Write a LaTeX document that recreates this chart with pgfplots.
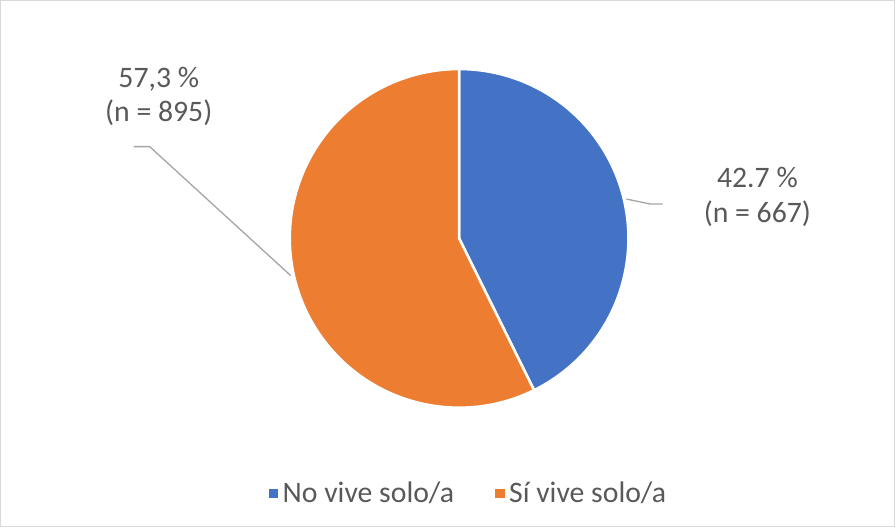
\documentclass[border=0pt]{standalone}
\usepackage{pgfplots}
\pgfplotsset{compat=1.18}
\usepackage{fontspec}
\setmainfont{Carlito}
\definecolor{pblue}{HTML}{4472C4}
\definecolor{porange}{HTML}{ED7D31}
\definecolor{ptext}{HTML}{595959}
\definecolor{pline}{HTML}{A5A5A5}
\definecolor{pframe}{HTML}{D9D9D9}
% counts per category
\def\nNo{667}
\def\nSi{895}
\begin{document}
\begin{tikzpicture}
\pgfmathsetmacro{\angNo}{360*(\nNo/(\nNo+\nSi))}
\begin{axis}[
  width=895bp, height=529bp, scale only axis,
  xmin=0, xmax=895, ymin=0, ymax=529,
  axis lines=none, clip=false,
  font=\fontsize{29.5bp}{34bp}\selectfont,
  legend columns=2,
  legend style={draw=none, fill=none, at={(axis cs:468,35)}, anchor=center,
    font=\fontsize{29.5bp}{34bp}\selectfont, text=ptext,
    /tikz/every even column/.append style={column sep=36bp}},
  legend image code/.code={\fill[#1] (-9bp,-6bp) rectangle (3bp,6bp);},
]
\draw[pframe, line width=1bp] (axis cs:5,2) rectangle (axis cs:892,524);
\addplot[fill=pblue, draw=white, line width=2.5bp, domain=0:\angNo, samples=120, variable=\t]
  ({460+168*sin(\t)}, {288+168*cos(\t)}) -- (axis cs:460,288) -- cycle;
\addlegendentry{No vive solo/a}
\addplot[fill=porange, draw=white, line width=2.5bp, domain=\angNo:360, samples=160, variable=\t]
  ({460+168*sin(\t)}, {288+168*cos(\t)}) -- (axis cs:460,288) -- cycle;
\addlegendentry{Sí vive solo/a}
\draw[pline, line width=1.3bp] (axis cs:626,327) -- (axis cs:650,322) -- (axis cs:662,322);
\draw[pline, line width=1.3bp] (axis cs:293,251) -- (axis cs:153,379) -- (axis cs:137,379);
\node[text=ptext, align=center, font=\fontsize{29.5bp}{34bp}\selectfont] at (axis cs:756,329) {42.7 \%\\(n = 667)};
\node[text=ptext, align=center, font=\fontsize{29.5bp}{34bp}\selectfont] at (axis cs:162,429) {57,3 \%\\(n = 895)};
\end{axis}
\end{tikzpicture}
\end{document}
